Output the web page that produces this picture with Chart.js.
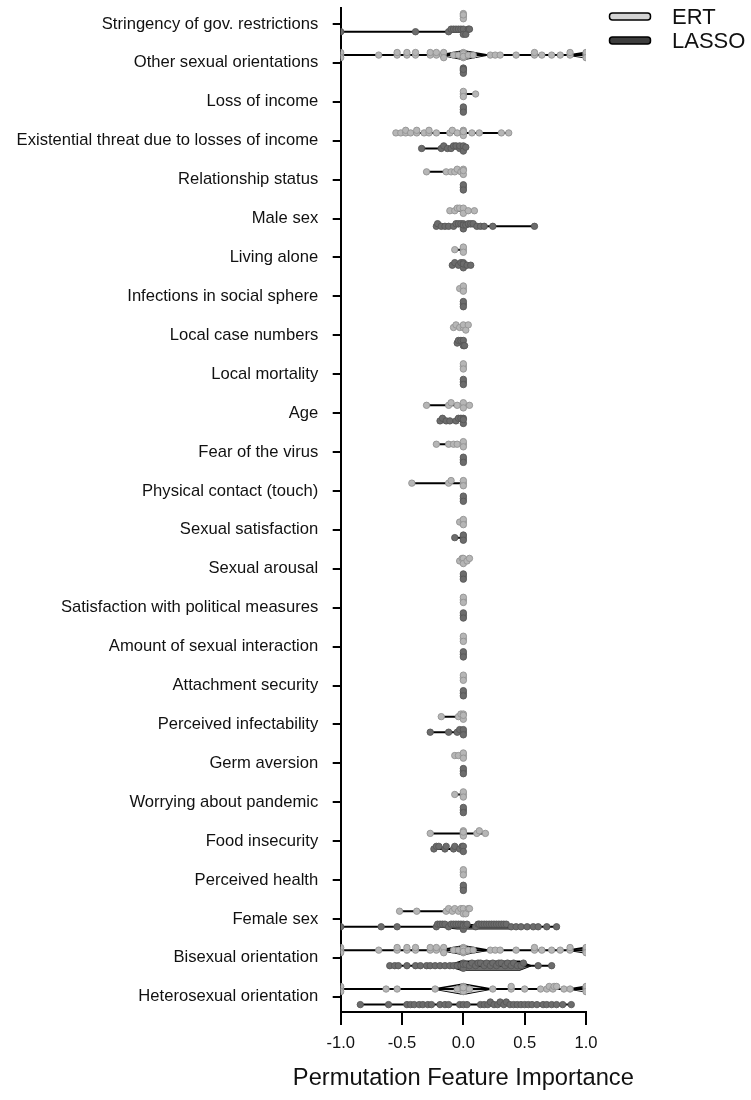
<!DOCTYPE html>
<html>
<head>
<meta charset="utf-8">
<script src="https://cdn.jsdelivr.net/npm/chart.js@4/dist/chart.umd.min.js"></script>
<style>
  html, body { margin: 0; padding: 0; background: #ffffff; }
  #wrap { position: relative; width: 751px; height: 1100px; }
</style>
</head>
<body>
<div id="wrap"><canvas id="chart"></canvas></div>
<script>
// Predictors, top to bottom
const features = [
  'Stringency of gov. restrictions',
  'Other sexual orientations',
  'Loss of income',
  'Existential threat due to losses of income',
  'Relationship status',
  'Male sex',
  'Living alone',
  'Infections in social sphere',
  'Local case numbers',
  'Local mortality',
  'Age',
  'Fear of the virus',
  'Physical contact (touch)',
  'Sexual satisfaction',
  'Sexual arousal',
  'Satisfaction with political measures',
  'Amount of sexual interaction',
  'Attachment security',
  'Perceived infectability',
  'Germ aversion',
  'Worrying about pandemic',
  'Food insecurity',
  'Perceived health',
  'Female sex',
  'Bisexual orientation',
  'Heterosexual orientation'
];

const seriesNames = ['ERT', 'LASSO'];
const xTicks = [-1.0, -0.5, 0.0, 0.5, 1.0];
const xTitle = 'Permutation Feature Importance';

// Permutation importances per resampling run, one list per predictor
const ertValues = [
  [0, 0, 0, 0],
  [-1, -1, -1, -0.69, -0.54, -0.54, -0.46, -0.46, -0.39, -0.39, -0.27, -0.27, -0.22, -0.22, -0.17, -0.16, -0.16, -0.08, -0.04, 0, 0, 0, 0, 0, 0.04, 0.08, 0.22, 0.26, 0.3, 0.43, 0.58, 0.58, 0.64, 0.72, 0.79, 0.87, 0.87, 1, 1, 1],
  [0, 0, 0, 0.1],
  [-0.55, -0.51, -0.47, -0.47, -0.43, -0.38, -0.38, -0.32, -0.28, -0.28, -0.22, -0.11, -0.09, -0.05, 0, 0, 0, 0, 0.07, 0.13, 0.31, 0.37],
  [-0.3, -0.14, -0.1, -0.07, -0.05, -0.02, 0, 0, 0],
  [-0.11, -0.07, -0.05, -0.03, 0, 0, 0, 0.04, 0.09],
  [-0.07, 0, 0, 0],
  [-0.03, 0, 0, 0],
  [-0.08, -0.06, -0.03, 0, 0, 0.02, 0.04],
  [0, 0, 0],
  [-0.3, -0.12, -0.1, -0.05, 0, 0, 0, 0.05],
  [-0.22, -0.12, -0.08, -0.05, 0, 0, 0],
  [-0.42, -0.12, -0.1, 0, 0, 0],
  [-0.03, 0, 0, 0],
  [-0.03, -0.01, 0, 0, 0.03, 0.05],
  [0, 0, 0],
  [0, 0, 0],
  [0, 0, 0],
  [-0.18, -0.04, -0.02, 0, 0, 0],
  [-0.07, -0.04, 0, 0, 0],
  [-0.07, 0, 0, 0],
  [-0.27, 0, 0, 0, 0, 0.11, 0.13, 0.18],
  [0, 0, 0],
  [-0.52, -0.38, -0.14, -0.12, -0.09, -0.07, -0.04, -0.02, 0, 0, 0.02, 0.04, 0.05],
  [-1, -1, -1, -0.69, -0.54, -0.54, -0.46, -0.46, -0.39, -0.39, -0.27, -0.27, -0.22, -0.22, -0.17, -0.16, -0.16, -0.08, -0.04, 0, 0, 0, 0, 0, 0.04, 0.08, 0.22, 0.26, 0.3, 0.43, 0.58, 0.58, 0.64, 0.72, 0.79, 0.87, 0.87, 1, 1, 1],
  [-1, -1, -1, -0.63, -0.54, -0.23, -0.05, 0, 0, 0, 0, 0.05, 0.24, 0.39, 0.39, 0.5, 0.63, 0.68, 0.7, 0.73, 0.74, 0.76, 0.82, 0.87, 1, 1, 1]
];

const lassoValues = [
  [-1, -0.39, -0.12, -0.1, -0.08, -0.06, -0.04, -0.02, 0, 0, 0.02, 0.04, 0.05],
  [0, 0, 0, 0],
  [0, 0, 0],
  [-0.34, -0.18, -0.16, -0.13, -0.1, -0.08, -0.06, -0.03, -0.03, 0, 0, 0, 0.02],
  [0, 0, 0],
  [-0.22, -0.21, -0.18, -0.15, -0.12, -0.08, -0.06, -0.04, -0.02, 0, 0, 0, 0.02, 0.04, 0.06, 0.08, 0.11, 0.14, 0.17, 0.24, 0.58],
  [-0.09, -0.07, -0.04, -0.02, 0, 0, 0, 0.03, 0.06],
  [0, 0, 0],
  [-0.05, -0.04, -0.02, 0, 0, 0.01],
  [0, 0, 0],
  [-0.19, -0.17, -0.14, -0.11, -0.06, -0.04, -0.02, 0, 0, 0],
  [0, 0, 0],
  [0, 0, 0],
  [-0.07, 0, 0, 0],
  [0, 0, 0],
  [0, 0, 0],
  [0, 0, 0],
  [0, 0, 0],
  [-0.27, -0.12, -0.05, -0.03, 0, 0, 0],
  [0, 0, 0],
  [0, 0, 0],
  [-0.24, -0.22, -0.2, -0.15, -0.14, -0.08, -0.07, -0.03, -0.01, 0, 0],
  [0, 0, 0],
  [-1, -0.67, -0.54, -0.22, -0.21, -0.19, -0.17, -0.15, -0.12, -0.1, -0.08, -0.06, -0.04, -0.02, 0, 0, 0, 0.02, 0.03, 0.1, 0.12, 0.13, 0.15, 0.17, 0.19, 0.21, 0.23, 0.25, 0.27, 0.29, 0.31, 0.33, 0.35, 0.39, 0.43, 0.47, 0.52, 0.57, 0.61, 0.68, 0.76],
  [-0.6, -0.56, -0.53, -0.46, -0.39, -0.35, -0.3, -0.27, -0.23, -0.19, -0.15, -0.11, -0.08, -0.05, -0.02, 0, 0, 0, 0.02, 0.05, 0.07, 0.1, 0.12, 0.14, 0.17, 0.19, 0.22, 0.24, 0.27, 0.29, 0.31, 0.34, 0.36, 0.39, 0.41, 0.44, 0.47, 0.49, 0.61, 0.72],
  [-0.84, -0.61, -0.46, -0.43, -0.4, -0.36, -0.33, -0.29, -0.26, -0.19, -0.15, -0.12, -0.03, 0, 0.03, 0.14, 0.17, 0.2, 0.22, 0.25, 0.28, 0.3, 0.33, 0.35, 0.38, 0.41, 0.44, 0.47, 0.5, 0.53, 0.56, 0.6, 0.65, 0.68, 0.72, 0.76, 0.81, 0.88]
];

// Violin outlines where the density is visibly wider than a line:
// [feature index, outline nodes as [importance, half density]]
const ertViolins = [
  [1, [[-0.19, 0], [0, 0.11], [0.2, 0]]],
  [1, [[0.86, 0], [1.0, 0.07]]],
  [24, [[-0.19, 0], [0, 0.11], [0.2, 0]]],
  [24, [[0.86, 0], [1.0, 0.07]]],
  [25, [[-0.24, 0], [0, 0.13], [0.23, 0]]],
  [25, [[0.86, 0], [1.0, 0.07]]]
];
const lassoViolins = [
  [23, [[-0.2, 0], [-0.05, 0.05], [0.38, 0.05], [0.45, 0]]],
  [24, [[-0.13, 0], [-0.02, 0.11], [0.46, 0.11], [0.55, 0]]]
];

// ---- drawing setup ----
const PX_PER_ROW = 38.9;           // vertical distance between predictors
const GROUP_SHIFT = 0.2;           // ERT above, LASSO below the tick
const SWARM_PX = [0, -2.6, 2.6, -1.3, 1.3];

const fontFamily = '"Liberation Sans", Arial, Helvetica, sans-serif';
const tickFontSize = 16.6;

function swarm(values, row, shift) {
  const placed = [];
  return values.map(v => {
    const near = placed.filter(p => Math.abs(p - v) < 0.026).length;
    placed.push(v);
    return { x: v, y: row + shift + SWARM_PX[near % SWARM_PX.length] / PX_PER_ROW };
  });
}

const styles = {
  ERT:   { point: '#b6b6b6', edge: '#939393', violin: '#d2d2d2', key: '#d4d4d4', shift: -GROUP_SHIFT },
  LASSO: { point: '#6c6c6c', edge: '#575757', violin: '#6e6e6e', key: '#3d3d3d', shift: GROUP_SHIFT }
};

const datasets = [];

function addSeries(name, valuesByRow, violins) {
  const st = styles[name];
  const pts = [];
  valuesByRow.forEach((vals, row) => {
    pts.push(...swarm(vals, row, st.shift));
    const lo = Math.min(...vals), hi = Math.max(...vals);
    if (hi > lo) {
      datasets.push({
        label: name + ' range',
        showLine: true,
        data: [{ x: lo, y: row + st.shift }, { x: hi, y: row + st.shift }],
        borderColor: '#000000',
        borderWidth: 2,
        pointRadius: 0,
        fill: false,
        order: 1
      });
    }
  });
  violins.forEach(([row, nodes]) => {
    const y = row + st.shift;
    const top = nodes.map(([x, d]) => ({ x, y: y - d }));
    const bottom = nodes.map(([x, d]) => ({ x, y: y + d }));
    datasets.push({
      label: name + ' density',
      showLine: true,
      data: top,
      borderColor: '#000000',
      borderWidth: 1.6,
      backgroundColor: st.violin,
      pointRadius: 0,
      tension: 0,
      fill: '+1',
      order: 2
    });
    datasets.push({
      label: name + ' density',
      showLine: true,
      data: bottom,
      borderColor: '#000000',
      borderWidth: 1.6,
      pointRadius: 0,
      tension: 0,
      fill: false,
      order: 2
    });
  });
  datasets.push({
    label: name,
    data: pts,
    showLine: false,
    pointRadius: 3.2,
    pointBorderWidth: 0.9,
    pointBackgroundColor: st.point,
    pointBorderColor: st.edge,
    order: 0
  });
}

addSeries('ERT', ertValues, ertViolins);
addSeries('LASSO', lassoValues, lassoViolins);

// Series key (upper right) and the x-axis caption, which is wider than the plot
const annotations = {
  id: 'annotations',
  afterDraw(chart) {
    const { ctx, chartArea, scales } = chart;
    const x0 = chartArea.right + 23.5;
    seriesNames.forEach((name, i) => {
      const y = 16.5 + i * 24;
      ctx.save();
      ctx.beginPath();
      ctx.roundRect(x0, y - 3.5, 41, 7, 3);
      ctx.fillStyle = styles[name].key;
      ctx.fill();
      ctx.lineWidth = 1.5;
      ctx.strokeStyle = '#000000';
      ctx.stroke();
      ctx.font = '22px ' + fontFamily;
      ctx.textBaseline = 'middle';
      ctx.textAlign = 'left';
      ctx.fillStyle = '#111111';
      ctx.fillText(name, x0 + 62.5, y + 1);
      ctx.restore();
    });
    ctx.save();
    ctx.font = '23.7px ' + fontFamily;
    ctx.textAlign = 'center';
    ctx.textBaseline = 'middle';
    ctx.fillStyle = '#111111';
    ctx.fillText(xTitle, (chartArea.left + chartArea.right) / 2, scales.x.bottom - 22);
    ctx.restore();
  }
};

new Chart(document.getElementById('chart'), {
  type: 'scatter',
  data: { datasets },
  options: {
    responsive: true,
    maintainAspectRatio: false,
    animation: false,
    layout: { padding: { top: 8, right: 165, left: 0, bottom: 0 } },
    plugins: {
      legend: { display: false },
      tooltip: { enabled: false }
    },
    scales: {
      x: {
        type: 'linear',
        min: xTicks[0],
        max: xTicks[xTicks.length - 1],
        afterBuildTicks: s => { s.ticks = xTicks.map(v => ({ value: v })); },
        afterFit: s => { s.height = 88; s.paddingLeft = 0; s.paddingRight = 0; },
        ticks: {
          callback: v => Number(v).toFixed(1),
          font: { family: fontFamily, size: tickFontSize },
          color: '#111111',
          padding: 8,
          maxRotation: 0
        },
        grid: { drawOnChartArea: false, drawTicks: true, tickLength: 13, lineWidth: 2, color: '#000000' },
        border: { display: true, color: '#000000', width: 2 }
      },
      y: {
        type: 'linear',
        reverse: true,
        min: -0.41,
        max: features.length - 1 + 0.39,
        afterBuildTicks: s => { s.ticks = features.map((_, i) => ({ value: i })); },
        afterFit: s => { s.width = 340.7; s.paddingTop = 0; s.paddingBottom = 0; },
        ticks: {
          callback: v => features[v] ?? '',
          font: { family: fontFamily, size: tickFontSize },
          color: '#111111',
          padding: 14.5,
          autoSkip: false
        },
        grid: { drawOnChartArea: false, drawTicks: true, tickLength: 8, lineWidth: 2, color: '#000000' },
        border: { display: true, color: '#000000', width: 2 }
      }
    }
  },
  plugins: [annotations]
});
</script>
</body>
</html>
